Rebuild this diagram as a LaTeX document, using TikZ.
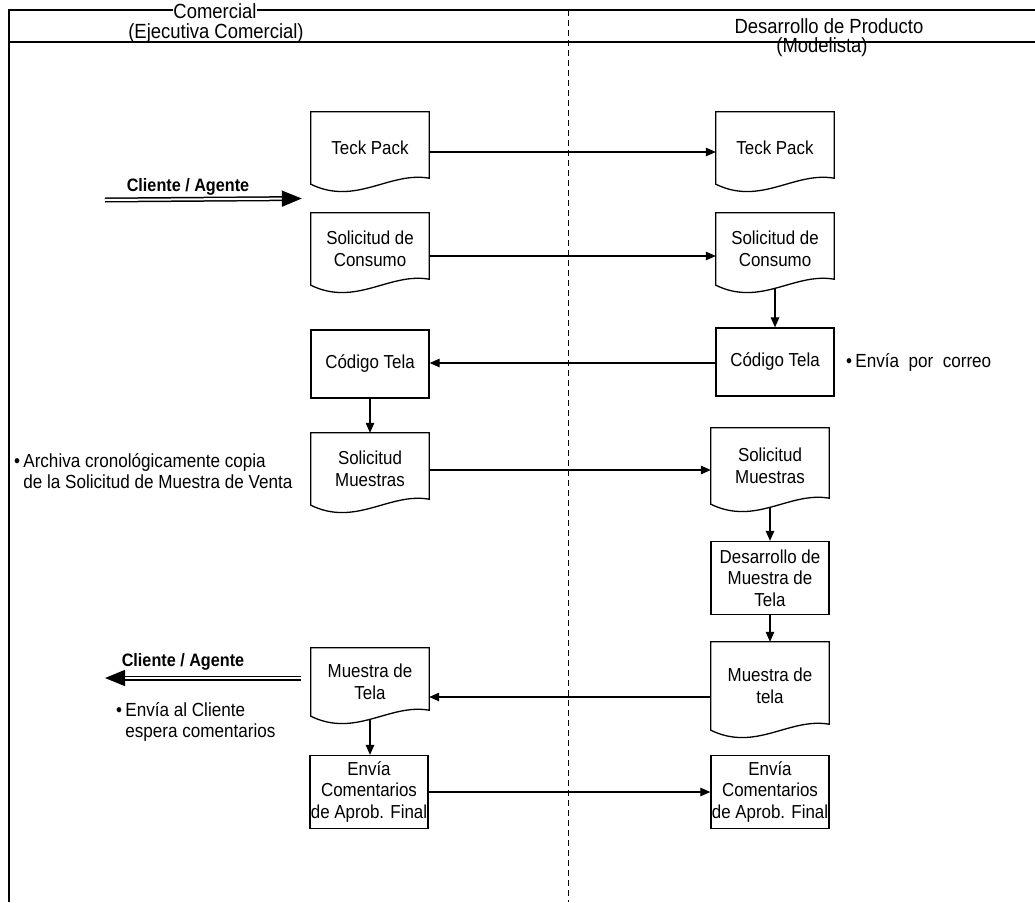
\documentclass[tikz,border=0pt]{standalone}
\usepackage{fontspec}
\setmainfont[FakeStretch=0.9]{Liberation Sans}
\usetikzlibrary{arrows.meta,calc}

% outline of a "document" symbol: straight top and sides, wavy bottom
\newcommand\docframe[1]{%
  \draw[boxline] (#1.south west) -- (#1.north west) -- (#1.north east)
    -- ([yshift=6pt]#1.south east)
    .. controls ([xshift=-40pt,yshift=13pt]#1.south east)
    and ([xshift=45pt,yshift=-22pt]#1.south west) .. (#1.south west) -- cycle;}

\begin{document}
\begin{tikzpicture}[x=1pt,y=-1pt,
  boxline/.style={line width=1.3pt},
  box/.style={draw, boxline, minimum width=118pt, inner sep=0pt, align=center,
    font=\fontsize{18.8}{21.5}\selectfont},
  docbody/.style={minimum width=118pt, inner sep=0pt, align=center,
    font=\fontsize{18.8}{21.5}\selectfont},
  flow/.style={line width=1.2pt, -{Triangle[length=10pt,width=8.5pt]}},
  client/.style={double, double distance=2pt, line width=1.5pt,
    -{Triangle[length=20pt,width=16pt]}},
  clientlabel/.style={font=\bfseries\fontsize{18}{20}\selectfont, inner sep=0pt},
  note/.style={anchor=west, align=left, inner sep=0pt, font=\fontsize{19}{21}\selectfont},
  head/.style={anchor=base, inner sep=0pt, font=\fontsize{20.5}{21}\selectfont},
  lane/.style={line width=1pt, dash pattern=on 6pt off 4pt}
]
\useasboundingbox (0,0) rectangle (1035,902);

% swimlane frame
\draw[line width=1.8pt] (9,902) -- (9,10) -- (1035,10);
\draw[line width=1.4pt] (9,42) -- (1035,42);
\draw[lane] (568,10) -- (568,902);

% lane titles
\node[head, fill=white, text depth=0pt] (hCom) at (215,18) {Comercial};
\node[head] (hEje) at (216,38) {(Ejecutiva Comercial)};
\node[head] (hDes) at (829,33) {Desarrollo de Producto};
\node[head] (hMod) at (822,52) {(Modelista)};

% Comercial column
\node[docbody, minimum height=72pt] (tpL) at (370,148) {Teck Pack};
\node[docbody, minimum height=72pt] (tcL) at (370,249) {Solicitud de\\Consumo};
\node[box, minimum height=68pt] (ctL) at (370,364) {Código Tela};
\node[docbody, minimum height=72pt] (smL) at (370,469) {Solicitud\\Muestras};
\node[docbody, minimum height=68pt] (mtL) at (370,682) {Muestra de\\Tela};
\node[box, minimum height=73pt] (enL) at (369,792) {Envía\\Comentarios\\de Aprob. Final};

% Desarrollo de Producto column
\node[docbody, minimum height=72pt] (tpR) at (775,148) {Teck Pack};
\node[docbody, minimum height=72pt] (tcR) at (775,249) {Solicitud de\\Consumo};
\node[box, minimum height=68pt] (ctR) at (775,362) {Código Tela};
\node[docbody, minimum height=76pt] (smR) at (770,466) {Solicitud\\Muestras};
\node[box, minimum height=73pt] (dvR) at (770,578) {Desarrollo de\\Muestra de\\Tela};
\node[docbody, minimum height=88pt] (mtR) at (770,686) {Muestra de\\tela};
\node[box, minimum height=73pt] (enR) at (770,792) {Envía\\Comentarios\\de Aprob. Final};

\foreach \d in {tpL,tcL,smL,mtL,tpR,tcR,smR,mtR} {\docframe{\d}}

% row levels of the horizontal connectors
\coordinate (rTP) at (0,152);
\coordinate (rTC) at (0,256);
\coordinate (rCT) at (0,363);
\coordinate (rSM) at (0,470);
\coordinate (rMT) at (0,697);
\coordinate (rEN) at (0,792);

\draw[flow] (tpL.east |- rTP) -- (tpR.west |- rTP);
\draw[flow] (tcL.east |- rTC) -- (tcR.west |- rTC);
\draw[flow] (ctR.west |- rCT) -- (ctL.east |- rCT);
\draw[flow] (smL.east |- rSM) -- (smR.west |- rSM);
\draw[flow] (mtR.west |- rMT) -- (mtL.east |- rMT);
\draw[flow] (enL.east |- rEN) -- (enR.west |- rEN);

% vertical connectors
\draw[flow] ([yshift=-3pt]tcR.south) -- (ctR.north);
\draw[flow] (ctL.south) -- (smL.north);
\draw[flow] ([yshift=-4pt]smR.south) -- (dvR.north);
\draw[flow] (dvR.south) -- (mtR.north);
\draw[flow] ([yshift=-3pt]mtL.south) -- (mtL.south |- enL.north);

% client / agent in and out
\coordinate (cliIn) at (105,200);
\coordinate (cliOut) at (105,678);
\draw[client] (cliIn) -- ($(tpL.south west)!.5!(tcL.north west)+(-9,0)$);
\node[clientlabel] (cliInLbl) at (188,187) {Cliente / Agente};
\draw[client] ([xshift=-10pt]mtL.west |- cliOut) -- (cliOut);
\node[clientlabel] (cliOutLbl) at (183,662) {Cliente / Agente};

% remarks
\node[note] (nCorreo) at (846,362) {•\,Envía\ \ por\ \ correo};
\node[note] (nArch) at (14,471) {•\,Archiva cronológicamente copia\\\phantom{•\,}de la Solicitud de Muestra de Venta};
\node[note] (nEnv) at (116,722) {•\,Envía al Cliente\\\phantom{•\,}espera comentarios};
\end{tikzpicture}
\end{document}
